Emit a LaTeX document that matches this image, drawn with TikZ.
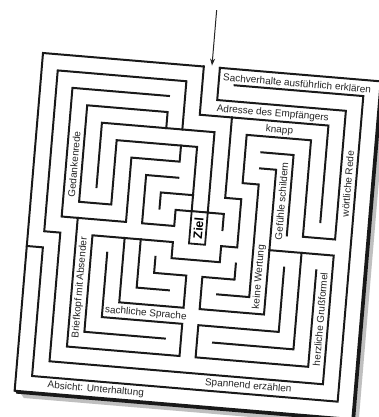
\documentclass[tikz,border=0pt]{standalone}
\usepackage{fontspec}
\setmainfont{Liberation Sans}
\usetikzlibrary{arrows.meta}
\begin{document}
\begin{tikzpicture}[x=1pt,y=-1pt]
\tikzset{
  wall/.style={line width=2pt, line join=miter, line cap=rect, black!90},
  lbl/.style={inner sep=0pt, text=black!85, font=\fontsize{10}{12}\selectfont},
  vlbl/.style={lbl, rotate=90},
  zielbox/.style={line width=1.8pt, black!90},
  pointer/.style={line width=1pt, black!85, -{Stealth[length=7pt,width=5pt]}}
}
\useasboundingbox (0,0) rectangle (378,417);
\fill[white] (0,0) rectangle (378,417);
\begin{scope}[shift={(43,53)}, rotate=-4.8, x=16.14pt, y=-16.14pt, transform shape]
  % shadow / thickness of the sheet
  \fill[black!25] (0.4,21.15) -- (21.15,21.15) -- (21.15,0.4) -- (21.4,0.6) -- (21.4,21.4) -- (0.6,21.4) -- cycle;
  \fill[black!90] (0.05,21) -- (21,21) -- (21,0.05) -- (21.17,0.15) -- (21.17,21.17) -- (0.12,21.17) -- cycle;
  % outer wall
  \draw[wall] (10,0) -- (0,0) -- (0,21) -- (21,21) -- (21,0) -- (11,0);
  % rings
  \draw[wall] (12,1) -- (20,1) -- (20,20) -- (1,20) -- (1,12) -- (0,12);
  \draw[wall] (9,4) -- (9,1) -- (1,1) -- (1,11) -- (2,11) -- (2,19) -- (19,19) -- (19,11) -- (15,11);
  \draw[wall] (11,0) -- (11,2) -- (19,2) -- (19,10) -- (17,10) -- (17,4) -- (13,4) -- (13,7) -- (14,7) -- (14,14) -- (12,14);
  \draw[wall] (10,0) -- (10,3) -- (18,3) -- (18,9);
  % top left
  \draw[wall] (8,2) -- (2,2) -- (2,10) -- (6,10) -- (6,6) -- (9,6) -- (9,5);
  \draw[wall] (8,4) -- (8,3) -- (3,3) -- (3,9) -- (5,9) -- (5,5) -- (10,5) -- (10,9);
  \draw[wall] (4,8) -- (4,4) -- (11,4) -- (11,9);
  \draw[wall] (9,7) -- (7,7) -- (7,10) -- (9,10) -- (9,9) -- (12,9) -- (12,10);
  \draw[wall] (10,8) -- (8,8) -- (8,9);
  % top right
  \draw[wall] (14,5) -- (16,5) -- (16,10);
  \draw[wall] (14,6) -- (15,6) -- (15,15) -- (11,15) -- (11,13) -- (13,13) -- (13,12);
  % bottom right
  \draw[wall] (16,12) -- (16,16) -- (11,16) -- (11,18) -- (18,18) -- (18,12);
  \draw[wall] (12,17) -- (17,17) -- (17,11);
  % bottom left
  \draw[wall] (3,10) -- (3,18) -- (10,18) -- (10,16) -- (5,16) -- (5,12);
  \draw[wall] (9,17) -- (4,17) -- (4,11) -- (9,11) -- (9,12) -- (12,12) -- (12,11) -- (13,11) -- (13,8) -- (12,8) -- (12,3);
  \draw[wall] (6,11) -- (6,15) -- (10,15) -- (10,13) -- (8,13) -- (8,12);
  \draw[wall] (7,11) -- (7,14) -- (9,14);
  % goal
  \draw[zielbox, fill=white] (10,9) rectangle (11,11);
  \node[rotate=90, inner sep=0pt, font=\fontsize{12.5}{14}\selectfont\bfseries] (ziel) at (10.5,10) {Ziel};
  % entry arrow
  \coordinate (arrowtop) at (10.5,-3.55);
  \coordinate (entry) at (10.5,-0.1);
  \draw[pointer] (arrowtop) -- (entry);
  % labels
  \node[lbl] (sach) at (15.85,0.55) {Sachverhalte ausführlich erklären};
  \node[lbl] (adr) at (14.5,2.55) {Adresse des Empfängers};
  \node[lbl] (knapp) at (15.0,3.55) {knapp};
  \node[vlbl] (ged) at (2.5,6.7) {Gedankenrede};
  \node[vlbl] (brief) at (3.5,14.3) {Briefkopf mit Absender};
  \node[vlbl] (gef) at (15.5,7.9) {Gefühle schildern};
  \node[vlbl] (woert) at (19.5,6.5) {wörtliche Rede};
  \node[vlbl] (keine) at (14.5,12.7) {keine Wertung};
  \node[vlbl] (herz) at (18.5,15.0) {herzliche Grußformel};
  \node[lbl] (sachl) at (7.7,15.55) {sachliche Sprache};
  \node[lbl] (spann) at (14.4,19.5) {Spannend erzählen};
  \node[lbl] (absicht) at (5.0,20.5) {Absicht: Unterhaltung};
\end{scope}
\end{tikzpicture}
\end{document}
